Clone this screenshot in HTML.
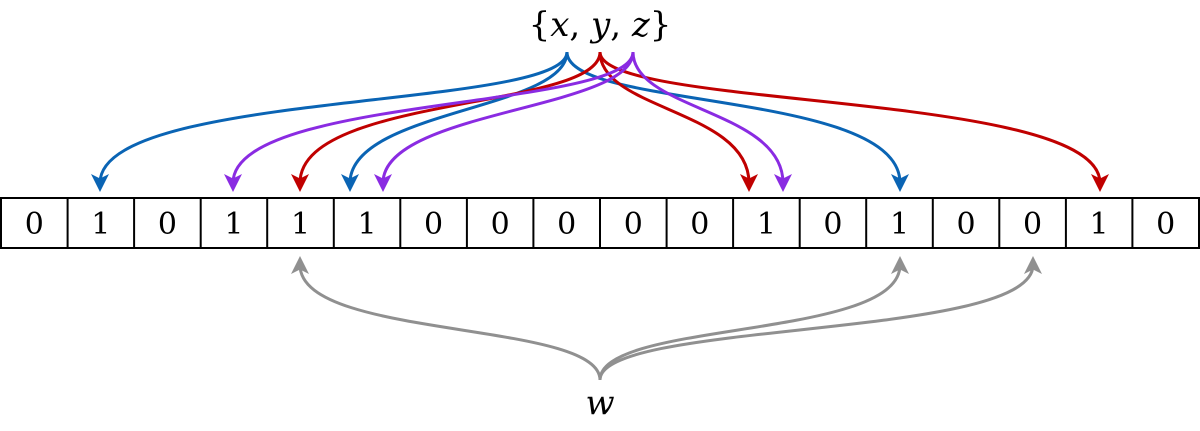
<!DOCTYPE html>
<html><head><meta charset="utf-8"><style>
html,body{margin:0;padding:0;background:#fff;}
svg{display:block;}
text{font-family:"DejaVu Serif","Liberation Serif",serif;}
</style></head><body>
<svg width="1200" height="431" viewBox="0 0 1200 431" xmlns="http://www.w3.org/2000/svg">
<defs>
<marker id="ab" markerWidth="6" markerHeight="6" refX="3" refY="3" orient="auto" markerUnits="strokeWidth" viewBox="0 0 6 6"><path d="M0,0 L6,3 L0,6 L1.5,3 z" fill="#0a64b4"/></marker>
<marker id="ar" markerWidth="6" markerHeight="6" refX="3" refY="3" orient="auto" markerUnits="strokeWidth" viewBox="0 0 6 6"><path d="M0,0 L6,3 L0,6 L1.5,3 z" fill="#c00000"/></marker>
<marker id="ap" markerWidth="6" markerHeight="6" refX="3" refY="3" orient="auto" markerUnits="strokeWidth" viewBox="0 0 6 6"><path d="M0,0 L6,3 L0,6 L1.5,3 z" fill="#8a2be2"/></marker>
<marker id="ag" markerWidth="6" markerHeight="6" refX="3" refY="3" orient="auto" markerUnits="strokeWidth" viewBox="0 0 6 6"><path d="M0,0 L6,3 L0,6 L1.5,3 z" fill="#909090"/></marker>
</defs>
<g fill="none" stroke-width="3">
<g stroke="#0a64b4">
<path d="M567,52 C567,110 100,90 100,183" marker-end="url(#ab)"/>
<path d="M567,52 C567,110 350,110 350,183" marker-end="url(#ab)"/>
<path d="M567,52 C567,110 900,90 900,183" marker-end="url(#ab)"/>
</g>
<g stroke="#c00000">
<path d="M600,52 C600,110 300,95 300,183" marker-end="url(#ar)"/>
<path d="M600,52 C600,110 749,110 749,183" marker-end="url(#ar)"/>
<path d="M600,52 C600,110 1100,90 1100,183" marker-end="url(#ar)"/>
</g>
<g stroke="#8a2be2">
<path d="M633,52 C633,110 233,95 233,183" marker-end="url(#ap)"/>
<path d="M633,52 C633,110 383,110 383,183" marker-end="url(#ap)"/>
<path d="M633,52 C633,110 783,110 783,183" marker-end="url(#ap)"/>
</g>
<g stroke="#909090">
<path d="M600,380 C600,320 300,340 300,265" marker-end="url(#ag)"/>
<path d="M600,380 C600,320 900,340 900,265" marker-end="url(#ag)"/>
<path d="M600,380 C600,320 1033,340 1033,265" marker-end="url(#ag)"/>
</g>
</g>
<g stroke="#000" stroke-width="2" fill="#fff">
<rect x="1" y="198" width="1198" height="50"/>
</g>
<g stroke="#000" stroke-width="2">
<line x1="67.6" y1="198" x2="67.6" y2="248"/><line x1="134.1" y1="198" x2="134.1" y2="248"/>
<line x1="200.7" y1="198" x2="200.7" y2="248"/><line x1="267.2" y1="198" x2="267.2" y2="248"/>
<line x1="333.8" y1="198" x2="333.8" y2="248"/><line x1="400.3" y1="198" x2="400.3" y2="248"/>
<line x1="466.9" y1="198" x2="466.9" y2="248"/><line x1="533.4" y1="198" x2="533.4" y2="248"/>
<line x1="600" y1="198" x2="600" y2="248"/><line x1="666.6" y1="198" x2="666.6" y2="248"/>
<line x1="733.1" y1="198" x2="733.1" y2="248"/><line x1="799.7" y1="198" x2="799.7" y2="248"/>
<line x1="866.2" y1="198" x2="866.2" y2="248"/><line x1="932.8" y1="198" x2="932.8" y2="248"/>
<line x1="999.3" y1="198" x2="999.3" y2="248"/><line x1="1065.9" y1="198" x2="1065.9" y2="248"/>
<line x1="1132.4" y1="198" x2="1132.4" y2="248"/>
</g>
<g font-size="30" text-anchor="middle" fill="#000">
<text x="34.3" y="234">0</text><text x="100.8" y="234">1</text><text x="167.4" y="234">0</text>
<text x="233.9" y="234">1</text><text x="300.5" y="234">1</text><text x="367" y="234">1</text>
<text x="433.6" y="234">0</text><text x="500.2" y="234">0</text><text x="566.7" y="234">0</text>
<text x="633.3" y="234">0</text><text x="699.8" y="234">0</text><text x="766.4" y="234">1</text>
<text x="832.9" y="234">0</text><text x="899.5" y="234">1</text><text x="966" y="234">0</text>
<text x="1032.6" y="234">0</text><text x="1099.1" y="234">1</text><text x="1165.7" y="234">0</text>
</g>
<text x="600" y="36" font-size="34" text-anchor="middle">{<tspan font-style="italic">x</tspan>, <tspan font-style="italic">y</tspan>, <tspan font-style="italic">z</tspan>}</text>
<text x="600" y="414" font-size="34" text-anchor="middle" font-style="italic">w</text>
</svg>
</body></html>
